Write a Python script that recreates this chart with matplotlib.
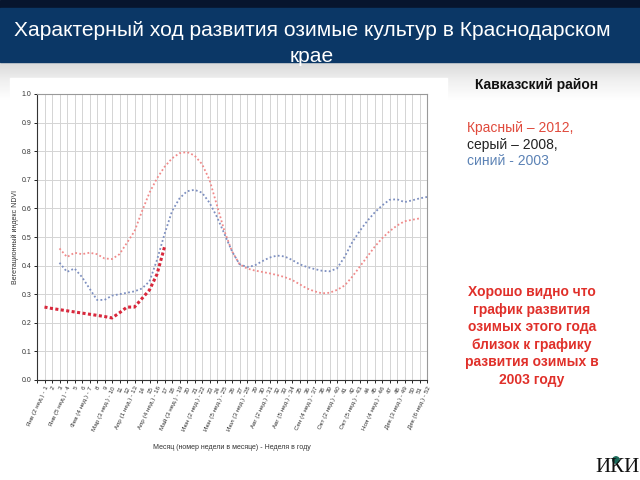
import numpy as np
import matplotlib
matplotlib.use("Agg")
import matplotlib.pyplot as plt
from matplotlib.patches import Rectangle, Circle

plt.rcParams['font.family'] = ['Liberation Sans', 'DejaVu Sans']

# NDVI by week of year
weeks_2012 = list(range(1, 18))
ndvi_2012 = [0.255, 0.250, 0.246, 0.242, 0.238, 0.234, 0.230, 0.226, 0.222, 0.217,
             0.235, 0.255, 0.255, 0.285, 0.315, 0.370, 0.465]

weeks_pink = list(range(3, 52))
ndvi_pink = [0.46, 0.43, 0.445, 0.44, 0.445, 0.44, 0.425, 0.423, 0.44, 0.48,
             0.52, 0.59, 0.655, 0.705, 0.745, 0.775, 0.793, 0.797, 0.785, 0.755,
             0.70, 0.61, 0.52, 0.45, 0.405, 0.39, 0.383, 0.378, 0.373, 0.367,
             0.36, 0.35, 0.335, 0.32, 0.31, 0.303, 0.305, 0.315, 0.33, 0.36,
             0.395, 0.43, 0.465, 0.495, 0.52, 0.54, 0.555, 0.56, 0.565]

weeks_blue = list(range(3, 53))
ndvi_blue = [0.41, 0.378, 0.39, 0.36, 0.32, 0.28, 0.28, 0.295, 0.30, 0.305,
             0.31, 0.32, 0.345, 0.42, 0.51, 0.59, 0.635, 0.66, 0.665, 0.655,
             0.62, 0.57, 0.51, 0.45, 0.405, 0.395, 0.40, 0.415, 0.428, 0.435,
             0.432, 0.42, 0.405, 0.395, 0.388, 0.382, 0.38, 0.39, 0.43, 0.48,
             0.52, 0.555, 0.585, 0.61, 0.63, 0.632, 0.622, 0.628, 0.635, 0.64]

month_labels = {1: 'Янв (2 нед.)', 4: 'Янв (5 нед.)', 7: 'Фев (4 нед.)', 10: 'Мар (3 нед.)',
                13: 'Апр (1 нед.)', 16: 'Апр (4 нед.)', 19: 'Май (3 нед.)', 22: 'Июн (2 нед.)',
                25: 'Июн (5 нед.)', 28: 'Июл (3 нед.)', 31: 'Авг (2 нед.)', 34: 'Авг (5 нед.)',
                37: 'Сен (4 нед.)', 40: 'Окт (2 нед.)', 43: 'Окт (5 нед.)', 46: 'Ноя (4 нед.)',
                49: 'Дек (3 нед.)', 52: 'Дек (6 нед.)'}
tick_weeks = list(range(0, 53))
tick_text = [''] + [(month_labels[w] + ' - ' + str(w)) if w in month_labels else str(w)
                    for w in range(1, 53)]

W, H = 640, 480
fig = plt.figure(figsize=(6.4, 4.8), dpi=100)
fig.patch.set_facecolor('white')

def px(x, y, w, h):
    return (x / W, 1 - (y + h) / H, w / W, h / H)

# slide background
bg = fig.add_axes([0, 0, 1, 1])
bg.set_xlim(0, W)
bg.set_ylim(H, 0)
bg.axis('off')
grad = np.linspace(0, 1, 60).reshape(-1, 1)
bg.imshow(grad, extent=(0, W, 100, 62), cmap='Greys_r', vmin=-3.0, vmax=1.0, aspect='auto')
bg.add_patch(Rectangle((0, 0), W, 8, color='#07152e'))
bg.add_patch(Rectangle((0, 8), W, 54, color='#0b3766'))
bg.add_patch(Rectangle((10, 78), 437, 392, color='white'))
bg.add_patch(Rectangle((450, 100), 190, 380, color='white'))
bg.text(312, 31, 'Характерный ход развития озимые культур в Краснодарском',
        color='white', fontsize=15.1, ha='center', va='center')
bg.text(312, 57, 'крае', color='white', fontsize=15.1, ha='center', va='center')
bg.text(475, 85, 'Кавказский район', color='#111111', fontsize=10, fontweight='bold',
        ha='left', va='center')
bg.text(467, 128, 'Красный – 2012,', color='#e04a3c', fontsize=10, va='center')
bg.text(467, 145, 'серый – 2008,', color='#222222', fontsize=10, va='center')
bg.text(467, 161, 'синий - 2003', color='#5b82b5', fontsize=10, va='center')
bg.text(532, 336, 'Хорошо видно что\nграфик развития\nозимых этого года\nблизок к графику\nразвития озимых в\n2003 году',
        color='#e0302a', fontsize=10, fontweight='bold', ha='center', va='center',
        linespacing=1.32)
bg.text(617, 467, 'ИКИ', family=['Liberation Serif', 'DejaVu Serif'], fontsize=15,
        color='#111111', ha='center', va='center')
bg.add_patch(Circle((616, 460), 3.2, color='#1a6a5a'))

# chart
ax = fig.add_axes(px(37, 94, 390, 286))
ax.plot(weeks_pink, ndvi_pink, color='#f08a8a', lw=1.3, ls=(0, (1, 1.3)))
ax.plot(weeks_blue, ndvi_blue, color='#7d8fc0', lw=1.3, ls=(0, (1, 1.3)))
ax.plot(weeks_2012, ndvi_2012, color='#d8283c', lw=2.2, ls=(0, (1, 0.8)))
ax.set_xlim(0, 52)
ax.set_ylim(0, 1.0)
ax.set_yticks(np.arange(0, 1.01, 0.1))
ax.set_yticklabels(['%.1f' % v for v in np.arange(0, 1.01, 0.1)], fontsize=5, color='#333333')
ax.set_xticks(tick_weeks)
ax.set_xticklabels(tick_text, rotation=65, ha='right', va='top', fontsize=4.5,
                   rotation_mode='anchor', color='#333333')
ax.grid(True, color='#d4d4d4', lw=0.7)
ax.set_axisbelow(True)
ax.tick_params(axis='both', length=2.5, width=0.6, pad=1.5)
for s in ['top', 'right']:
    ax.spines[s].set_color('#999999')
for s in ['left', 'bottom']:
    ax.spines[s].set_color('#333333')
ax.set_ylabel('Вегетационный индекс NDVI', fontsize=5, color='#333333', labelpad=2)
ax.set_xlabel('Месяц (номер недели в месяце) - Неделя в году', fontsize=5, color='#333333',
              labelpad=9)

fig.savefig('out.png', dpi=100)
